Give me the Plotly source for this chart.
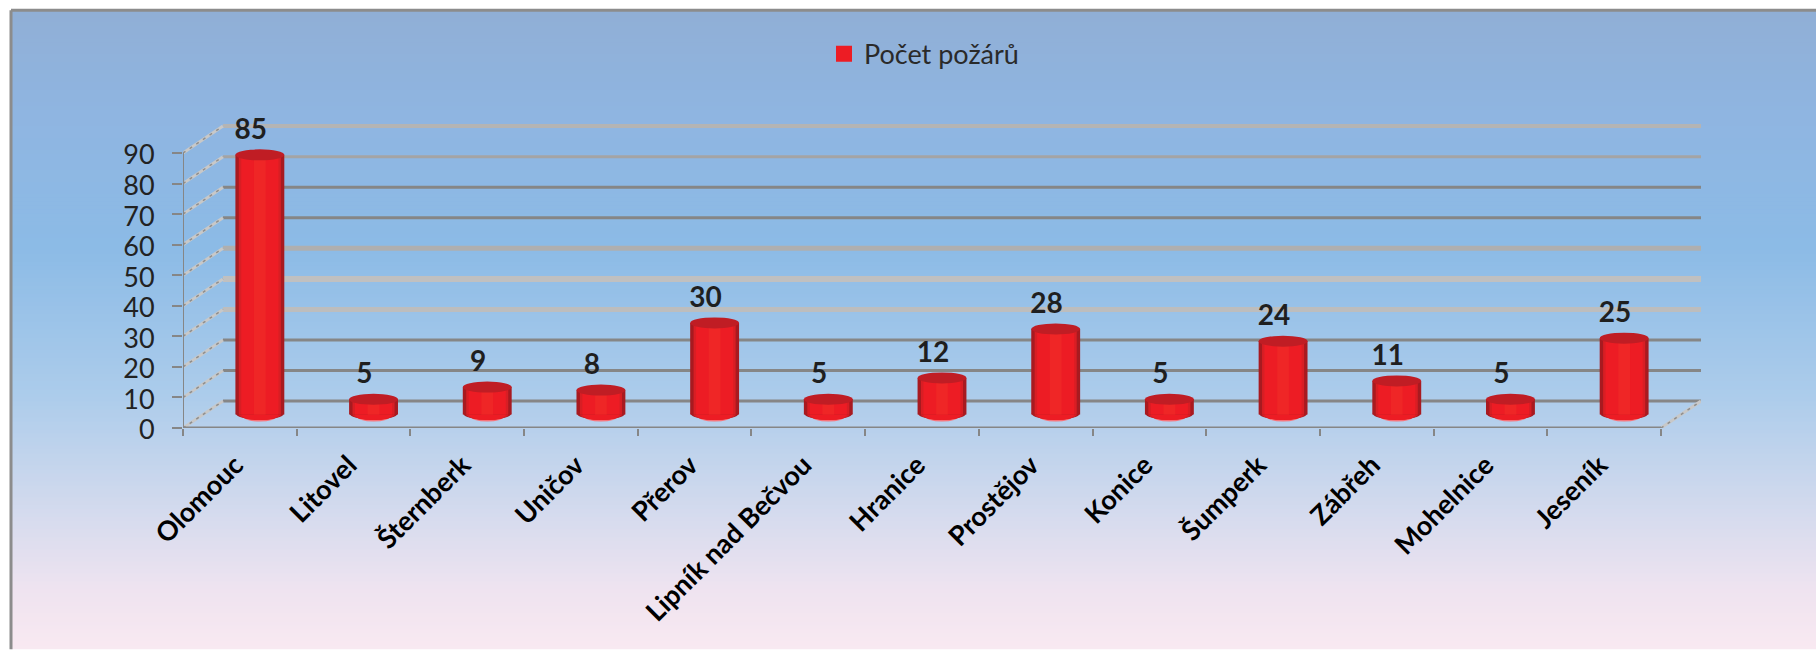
import plotly.graph_objects as go

categories = ["Olomouc", "Litovel", "Šternberk", "Uničov", "Přerov", "Lipník nad Bečvou", "Hranice",
              "Prostějov", "Konice", "Šumperk", "Zábřeh", "Mohelnice", "Jeseník"]
pozary = [85, 5, 9, 8, 30, 5, 12, 28, 5, 24, 11, 5, 25]
axis_ticks = [0, 10, 20, 30, 40, 50, 60, 70, 80, 90]
series_name = "Počet požárů"

# per-gridline styling on the back wall (bottom to top)
grid_main = ["#868686", "#868686", "#868686", "#BDBDBD", "#C0C0C0", "#AFAFAF", "#868686", "#868686", "#A4A4A4", "#B4B4B4"]
grid_width = [3, 3, 3, 5, 6, 5, 3, 3, 3, 4]

W, H = 1816, 650
ML, MR, MT, MB = 183, W - 1701, 120, 221.5
PW, PH = W - ML - MR, H - MT - MB
DX, DY = 0.352, 8.8  # depth of the fake 3D box, in axis units
XMIN, XMAX = -0.5, 12.5
YMAX = 100.8
n = len(categories)
xs = list(range(n))
bar_x = [i + DX / 2 for i in xs]
base = DY / 2
BW = 0.43
ELL = 1.8


def fx(px):
    return (px - ML) / PW


def fy(py):
    return (H - MB - py) / PH


stops = [(0.0, (144, 175, 214)), (0.16, (143, 181, 225)), (0.37, (140, 187, 230)), (0.6, (172, 204, 235)),
         (0.75, (205, 216, 237)), (0.9, (238, 227, 240)), (1.0, (249, 233, 241))]


def grad(t):
    for (a, ca), (b, cb) in zip(stops, stops[1:]):
        if t <= b:
            f = (t - a) / (b - a)
            return "rgb(%d,%d,%d)" % tuple(round(p + (q - p) * f) for p, q in zip(ca, cb))
    return "rgb(249,233,241)"


shapes = []
top, left, step = 10, 11, 4
for y in range(top, H, step):
    shapes.append(dict(type="rect", xref="paper", yref="paper", layer="below", line_width=0,
                       x0=fx(left), x1=fx(W), y0=fy(min(y + step + 1, H)), y1=fy(y),
                       fillcolor=grad((y - top) / (H - top))))
# frame
shapes.append(dict(type="line", xref="paper", yref="paper", layer="below", x0=fx(left), x1=fx(W), y0=fy(top), y1=fy(top),
                   line=dict(color="#8C8C8C", width=3)))
shapes.append(dict(type="line", xref="paper", yref="paper", layer="below", x0=fx(left), x1=fx(left), y0=fy(H), y1=fy(top),
                   line=dict(color="#8C8C8C", width=3)))
# back-wall gridlines
for v, c, w in zip(axis_ticks, grid_main, grid_width):
    shapes.append(dict(type="line", xref="x", yref="y", layer="below", x0=XMIN + DX, x1=XMAX + DX, y0=v + DY, y1=v + DY,
                       line=dict(color=c, width=w)))
# bottom caps of the cylinders
for x in bar_x:
    for frac, col, off in [(0.7, "#F8737A", -0.5), (0.98, "#A81A20", 0.25), (0.86, "#D81E24", 0), (0.76, "#ED1C24", 0)]:
        shapes.append(dict(type="circle", xref="x", yref="y", layer="below", line_width=0, fillcolor=col,
                           x0=x - BW * frac / 2, x1=x + BW * frac / 2, y0=base - ELL + off, y1=base + ELL + off))
# top caps
for x, v in zip(bar_x, pozary):
    shapes.append(dict(type="circle", xref="x", yref="y", layer="above", line_width=0, fillcolor="#C01D24",
                       x0=x - BW / 2, x1=x + BW / 2, y0=base + v - ELL, y1=base + v + ELL))

fig = go.Figure()
# side wall and floor edge
for v in axis_ticks:
    fig.add_trace(go.Scatter(x=[XMIN, XMIN + DX], y=[v, v + DY], mode="lines", hoverinfo="skip", showlegend=False,
                             line=dict(color="#C8C8C8", width=3), cliponaxis=False))
    fig.add_trace(go.Scatter(x=[XMIN, XMIN + DX], y=[v, v + DY], mode="lines", hoverinfo="skip", showlegend=False,
                             line=dict(color="#8E8E8E", width=1.5, dash="3px,5px"), cliponaxis=False))
fig.add_trace(go.Scatter(x=[XMAX, XMAX + DX], y=[0, DY], mode="lines", hoverinfo="skip", showlegend=False,
                         line=dict(color="#C8C8C8", width=3), cliponaxis=False))
fig.add_trace(go.Scatter(x=[XMAX, XMAX + DX], y=[0, DY], mode="lines", hoverinfo="skip", showlegend=False,
                         line=dict(color="#8E8E8E", width=1.5, dash="3px,5px"), cliponaxis=False))
# axis lines
fig.add_trace(go.Scatter(x=[XMIN, XMAX], y=[0, 0], mode="lines", hoverinfo="skip", showlegend=False,
                         line=dict(color="#868686", width=3), cliponaxis=False))
fig.add_trace(go.Scatter(x=[XMIN, XMIN], y=[0, axis_ticks[-1]], mode="lines", hoverinfo="skip", showlegend=False,
                         line=dict(color="#868686", width=2), cliponaxis=False))

# cylinder shading layers
layers = [(BW, "#A81A20"), (BW * 0.86, "#D81E24"), (BW * 0.76, "#ED1C24"), (BW * 0.24, "#EF2626")]
for w, col in layers:
    fig.add_trace(go.Bar(x=bar_x, y=pozary, base=base, width=w, name=series_name, showlegend=False,
                         marker=dict(color=col, line_width=0)))

# legend entry
fig.add_trace(go.Scatter(x=[None], y=[None], mode="markers", name=series_name,
                         marker=dict(symbol="square", size=16, color="#ED1C24")))

fig.add_trace(go.Scatter(x=[x - 0.08 for x in bar_x], y=[v + base + 7.6 for v in pozary], mode="text",
                         text=[str(v) for v in pozary], showlegend=False, cliponaxis=False,
                         textfont=dict(family="Lato", size=28, color="#1F1F1F", weight="bold")))

fig.update_layout(
    width=W, height=H, margin=dict(l=ML, r=MR, t=MT, b=MB),
    paper_bgcolor="white", plot_bgcolor="rgba(0,0,0,0)", barmode="overlay",
    shapes=shapes, font=dict(family="Lato", color="#222222"),
    legend=dict(x=fx(824), y=fy(54), xanchor="left", yanchor="middle", itemsizing="trace",
                orientation="h", bgcolor="rgba(0,0,0,0)", font=dict(size=27, family="Lato", color="#2A2A2A")),
    xaxis=dict(range=[XMIN, XMAX + DX], tickvals=[i - 0.04 for i in xs], ticktext=categories, tickangle=-45, ticks="",
               showgrid=False, zeroline=False, showline=False,
               tickfont=dict(family="Lato", size=27, color="#000000", weight="bold"), ticklabelstandoff=15,
               minor=dict(tickvals=[i - 0.5 for i in range(n + 1)], ticks="outside", ticklen=7, tickwidth=2,
                          tickcolor="#868686", showgrid=False)),
    yaxis=dict(range=[0, YMAX], tickvals=axis_ticks, ticks="outside", ticklen=10, tickwidth=2, tickcolor="#868686",
               showgrid=False, zeroline=False, showline=False, ticklabelstandoff=12, ticklabelshift=2,
               tickfont=dict(family="Lato", size=27, color="#222222")),
)

fig.write_html("out.html", config={"displayModeBar": False},
               post_script="document.body.style.margin='0';document.body.style.overflow='hidden';")
